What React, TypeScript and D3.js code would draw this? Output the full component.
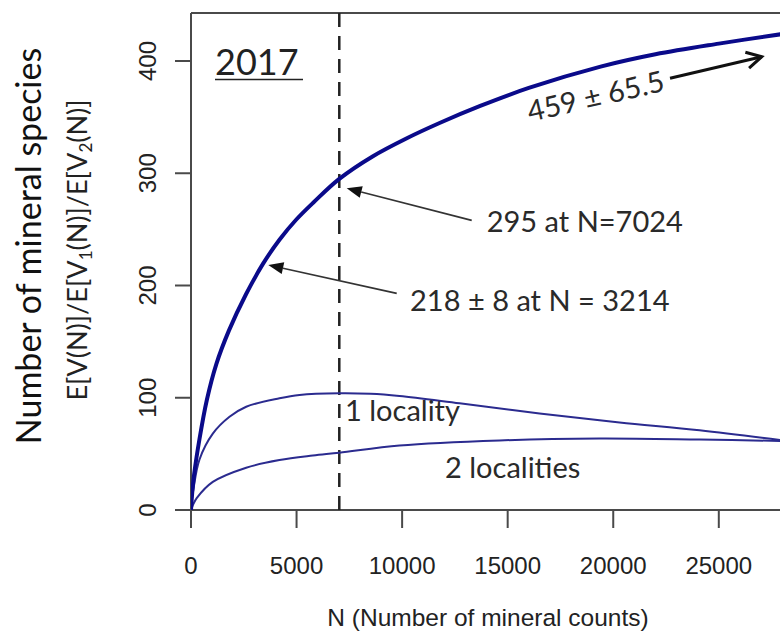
import React from 'react';
import * as d3 from 'd3';

const W = 780;
const H = 634;

// axis ticks
const nTicks = [0, 5000, 10000, 15000, 20000, 25000];
const vTicks = [0, 100, 200, 300, 400];

// E[V(N)] - total species
const totalN = [0, 60, 150, 400, 750, 1200, 1800, 2600, 3400, 4200, 5000, 5800, 7024, 8600, 10200, 11800, 13700, 16000, 19400, 22000, 25000, 28000];
const totalV = [0, 16, 32, 63, 98, 130, 160, 192, 219, 241, 259, 274, 295, 315, 331, 345, 360, 376, 395, 406, 415.5, 424];

// E[V1(N)] - species found at 1 locality
const oneN = [0, 40, 110, 403, 1033, 1824, 2614, 4190, 5140, 7024, 8500, 9876, 12720, 16510, 20300, 24090, 28000];
const oneV = [0, 9, 18, 45, 68, 83, 92, 99.5, 102.5, 104, 103.5, 101.5, 95, 86, 78, 71, 62];

// E[V2(N)] - species found at 2 localities
const twoN = [0, 80, 270, 1033, 2614, 4190, 5770, 7024, 9876, 14620, 19350, 24090, 28000];
const twoV = [0, 4, 10.5, 25, 37.7, 44.5, 48.5, 51, 57.5, 62, 63.6, 62.7, 61.5];

const cutoffN = 7024;

const x = d3.scaleLinear().domain([0, 25000]).range([191, 718.8]);
const y = d3.scaleLinear().domain([0, 400]).range([510, 61]);
const plotTop = 13;
const plotRight = 790;

const line = d3.line<[number, number]>()
  .x(d => x(d[0]))
  .y(d => y(d[1]))
  .curve(d3.curveCatmullRom.alpha(0.5));

const zip = (a: number[], b: number[]) => a.map((v, i) => [v, b[i]] as [number, number]);

const ANNO_FONT = 'Lato, "Open Sans", sans-serif';
const AXIS_FONT = '"Liberation Sans", Arial, sans-serif';
const TXT = '#2a2a2a';
const AXIS = '#4a4a4a';

// open arrow head (two wings) at tip, pointing away from tail
function openHead(tx: number, ty: number, fx: number, fy: number, len: number, ang: number) {
  const a = Math.atan2(ty - fy, tx - fx);
  const p1 = [tx - len * Math.cos(a - ang), ty - len * Math.sin(a - ang)];
  const p2 = [tx - len * Math.cos(a + ang), ty - len * Math.sin(a + ang)];
  return `M${p1[0]},${p1[1]} L${tx},${ty} L${p2[0]},${p2[1]}`;
}

function ArrowThin({ from, to }: { from: [number, number]; to: [number, number] }) {
  const x1 = x(from[0]), y1 = y(from[1]), x2 = x(to[0]), y2 = y(to[1]);
  const a = Math.atan2(y2 - y1, x2 - x1);
  const len = 15, half = 6;
  const bx = x2 - len * Math.cos(a), by = y2 - len * Math.sin(a);
  const head = `M${x2},${y2} L${bx + half * Math.sin(a)},${by - half * Math.cos(a)} L${bx - half * Math.sin(a)},${by + half * Math.cos(a)} Z`;
  return (
    <g>
      <line x1={x1} y1={y1} x2={bx} y2={by} stroke="#333" strokeWidth={1.6} />
      <path d={head} fill="#111" />
    </g>
  );
}

export default function App() {
  const tail = [22690, 384.6];
  const tip = [27034, 403.8];
  return (
    <svg width={W} height={H} style={{ position: 'absolute', left: 0, top: 0, background: '#fff' }}>
      <defs>
        <clipPath id="plot">
          <rect x={x(0)} y={plotTop} width={plotRight - x(0)} height={y(0) - plotTop} />
        </clipPath>
      </defs>

      {/* frame */}
      <line x1={x(0)} x2={plotRight} y1={plotTop} y2={plotTop} stroke={AXIS} strokeWidth={2} />
      <line x1={x(0)} x2={x(0)} y1={plotTop} y2={y(0)} stroke={AXIS} strokeWidth={2} />
      <line x1={x(0)} x2={plotRight} y1={y(0)} y2={y(0)} stroke={AXIS} strokeWidth={2} />

      {/* y axis */}
      {vTicks.map(t => (
        <g key={`v${t}`}>
          <line x1={x(0) - 16} x2={x(0)} y1={y(t)} y2={y(t)} stroke={AXIS} strokeWidth={2} />
          <text transform={`translate(156,${y(t)}) rotate(-90)`} textAnchor="middle"
            fontFamily={AXIS_FONT} fontSize={24} fill="#222">{t}</text>
        </g>
      ))}

      {/* x axis */}
      {nTicks.map(t => (
        <g key={`n${t}`}>
          <line x1={x(t)} x2={x(t)} y1={y(0)} y2={y(0) + 18} stroke={AXIS} strokeWidth={2} />
          <text x={x(t)} y={574} textAnchor="middle" fontFamily={AXIS_FONT} fontSize={24} fill="#222">{t}</text>
        </g>
      ))}

      <text x={488} y={626} textAnchor="middle" fontFamily={AXIS_FONT} fontSize={24.5} fill="#222">
        N (Number of mineral counts)
      </text>

      {/* y titles */}
      <text transform="translate(41,246) rotate(-90)" textAnchor="middle" fontFamily={ANNO_FONT}
        fontSize={34} fill="#111">Number of mineral species</text>
      <text transform="translate(87,250) rotate(-90)" textAnchor="middle" fontFamily={ANNO_FONT}
        fontSize={27} fill="#222">
        E[V(N)]/E[V<tspan fontSize={17} dy={5}>1</tspan><tspan dy={-5}>(N)]/E[V</tspan>
        <tspan fontSize={17} dy={5}>2</tspan><tspan dy={-5}>(N)]</tspan>
      </text>

      {/* curves */}
      <g clipPath="url(#plot)">
        <line x1={x(cutoffN)} x2={x(cutoffN)} y1={plotTop} y2={y(0)} stroke="#222"
          strokeWidth={2.5} strokeDasharray="14,9" />
        <path d={line(zip(oneN, oneV)) || ''} fill="none" stroke="#2b2b8f" strokeWidth={2} />
        <path d={line(zip(twoN, twoV)) || ''} fill="none" stroke="#2b2b8f" strokeWidth={2} />
        <path d={line(zip(totalN, totalV)) || ''} fill="none" stroke="#0a0a8a" strokeWidth={4} />
      </g>

      {/* year */}
      <text x={215} y={75} fontFamily={ANNO_FONT} fontSize={36} fill="#222">2017</text>
      <line x1={215} x2={303} y1={79.5} y2={79.5} stroke="#222" strokeWidth={1.6} />

      {/* annotations */}
      <ArrowThin from={[13296, 258]} to={[7375, 286.6]} />
      <ArrowThin from={[9744, 193]} to={[3662, 218.3]} />
      <text x={x(14007)} y={y(247.7)} fontFamily={ANNO_FONT} fontSize={29} fill={TXT}>295 at N=7024</text>
      <text x={x(10374)} y={y(177.3)} fontFamily={ANNO_FONT} fontSize={29} fill={TXT}>218 ± 8 at N = 3214</text>
      <text transform={`translate(${x(16058)},${y(345.7)}) rotate(-13)`} fontFamily={ANNO_FONT} fontSize={29} fill={TXT}>
        459 ± 65.5
      </text>
      <line x1={x(tail[0])} y1={y(tail[1])} x2={x(tip[0])} y2={y(tip[1])} stroke="#111" strokeWidth={3} />
      <path d={openHead(x(tip[0]), y(tip[1]), x(tail[0]), y(tail[1]), 17, 0.5)} fill="none"
        stroke="#111" strokeWidth={3} strokeLinejoin="miter" />
      <text x={x(7295)} y={y(79.3)} fontFamily={ANNO_FONT} fontSize={29} fill={TXT}>1 locality</text>
      <text x={x(12032)} y={y(28.5)} fontFamily={ANNO_FONT} fontSize={29} fill={TXT}>2 localities</text>
    </svg>
  );
}
